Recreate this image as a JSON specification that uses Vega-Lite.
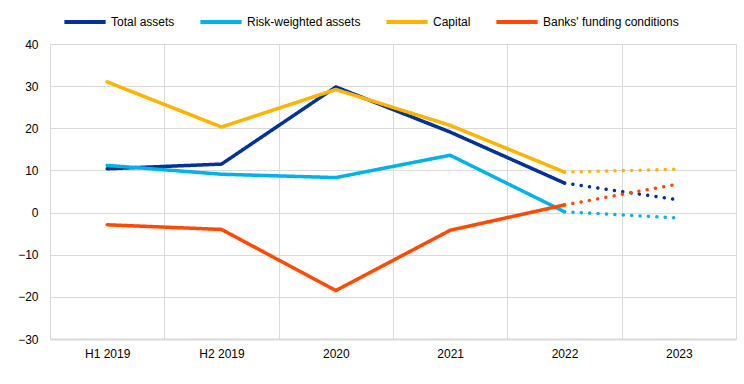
{
  "$schema": "https://vega.github.io/schema/vega-lite/v6.json",
  "width": 686,
  "height": 295,
  "autosize": "none",
  "padding": {"left": 50, "top": 44, "right": 8, "bottom": 45},
  "background": "white",
  "config": {
    "font": "Liberation Sans",
    "view": {"stroke": null},
    "axis": {"labelFont": "Liberation Sans", "labelFontSize": 12, "labelColor": "#000000", "gridColor": "#d9d9d9", "gridWidth": 1, "ticks": false, "title": null}
  },
  "data": {
    "values": [
      {"series": "Total assets", "period": "H1 2019", "value": 10.4, "part": "actual"},
      {"series": "Total assets", "period": "H2 2019", "value": 11.5, "part": "actual"},
      {"series": "Total assets", "period": "2020", "value": 29.8, "part": "actual"},
      {"series": "Total assets", "period": "2021", "value": 19.1, "part": "actual"},
      {"series": "Total assets", "period": "2022", "value": 7.0, "part": "actual"},
      {"series": "Total assets", "period": "2022", "value": 7.0, "part": "projection"},
      {"series": "Total assets", "period": "2023", "value": 3.0, "part": "projection"},
      {"series": "Risk-weighted assets", "period": "H1 2019", "value": 11.2, "part": "actual"},
      {"series": "Risk-weighted assets", "period": "H2 2019", "value": 9.1, "part": "actual"},
      {"series": "Risk-weighted assets", "period": "2020", "value": 8.3, "part": "actual"},
      {"series": "Risk-weighted assets", "period": "2021", "value": 13.6, "part": "actual"},
      {"series": "Risk-weighted assets", "period": "2022", "value": 0.2, "part": "actual"},
      {"series": "Risk-weighted assets", "period": "2022", "value": 0.2, "part": "projection"},
      {"series": "Risk-weighted assets", "period": "2023", "value": -1.3, "part": "projection"},
      {"series": "Capital", "period": "H1 2019", "value": 31.0, "part": "actual"},
      {"series": "Capital", "period": "H2 2019", "value": 20.3, "part": "actual"},
      {"series": "Capital", "period": "2020", "value": 29.2, "part": "actual"},
      {"series": "Capital", "period": "2021", "value": 20.7, "part": "actual"},
      {"series": "Capital", "period": "2022", "value": 9.6, "part": "actual"},
      {"series": "Capital", "period": "2022", "value": 9.6, "part": "projection"},
      {"series": "Capital", "period": "2023", "value": 10.3, "part": "projection"},
      {"series": "Banks' funding conditions", "period": "H1 2019", "value": -2.9, "part": "actual"},
      {"series": "Banks' funding conditions", "period": "H2 2019", "value": -4.0, "part": "actual"},
      {"series": "Banks' funding conditions", "period": "2020", "value": -18.5, "part": "actual"},
      {"series": "Banks' funding conditions", "period": "2021", "value": -4.2, "part": "actual"},
      {"series": "Banks' funding conditions", "period": "2022", "value": 1.8, "part": "actual"},
      {"series": "Banks' funding conditions", "period": "2022", "value": 1.8, "part": "projection"},
      {"series": "Banks' funding conditions", "period": "2023", "value": 6.8, "part": "projection"}
    ]
  },
  "mark": {"type": "line", "strokeWidth": 3.5, "strokeCap": "round", "strokeJoin": "round"},
  "encoding": {
    "x": {
      "field": "period",
      "type": "ordinal",
      "sort": ["H1 2019", "H2 2019", "2020", "2021", "2022", "2023"],
      "scale": {"type": "band", "paddingInner": 0, "paddingOuter": 0},
      "axis": {"tickBand": "extent", "labelAngle": 0, "labelPadding": 9, "grid": true, "domain": true, "domainColor": "#d9d9d9", "domainWidth": 2}
    },
    "y": {
      "field": "value",
      "type": "quantitative",
      "scale": {"domain": [-30, 40], "nice": false, "zero": false},
      "axis": {"values": [-30, -20, -10, 0, 10, 20, 30, 40], "domain": false, "labelPadding": 12}
    },
    "color": {
      "field": "series",
      "type": "nominal",
      "scale": {"domain": ["Total assets", "Risk-weighted assets", "Capital", "Banks' funding conditions"], "range": ["#003299", "#00b1ea", "#ffb400", "#ff4b00"]},
      "legend": {"orient": "none", "legendX": 12, "legendY": -45, "direction": "horizontal", "title": null, "symbolType": "stroke", "symbolSize": 1700, "symbolStrokeWidth": 4, "labelFontSize": 12, "labelFont": "Liberation Sans", "columnPadding": 17, "labelOffset": 3}
    },
    "strokeDash": {
      "field": "part",
      "type": "nominal",
      "scale": {"domain": ["actual", "projection"], "range": [[1, 0], [0.1, 8.3]]},
      "legend": null
    }
  }
}
